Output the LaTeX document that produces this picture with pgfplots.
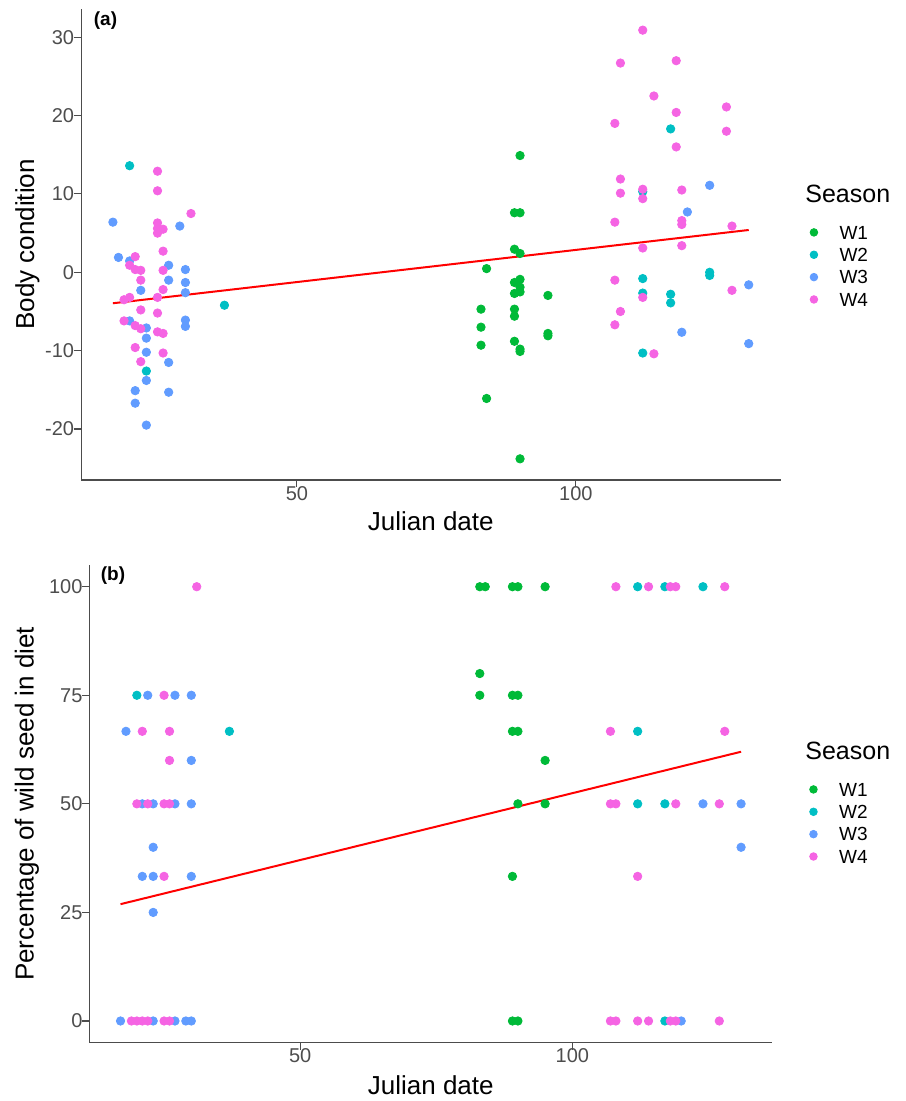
\documentclass[border=0pt]{standalone}
\usepackage{fontspec}
\setmainfont{Liberation Sans}
\usepackage{pgfplots}
\pgfplotsset{compat=1.18}

\definecolor{wone}{HTML}{00BA38}
\definecolor{wtwo}{HTML}{00BFC4}
\definecolor{wthree}{HTML}{619CFF}
\definecolor{wfour}{HTML}{F564E3}
\definecolor{ticktext}{HTML}{4D4D4D}

\pgfplotsset{
  gg/.style={
    scale only axis, anchor=south west,
    axis lines=left, axis line style={-, black!70, line width=0.55pt},
    tick align=outside, major tick length=3.5pt,
    tick style={black!70, line width=0.55pt},
    xmin=11.3, xmax=136.7, xtick={50,100},
    ticklabel style={font=\fontsize{10}{12}\selectfont, text=ticktext},
    xticklabel style={yshift=4pt},
    yticklabel style={xshift=3.5pt},
    /pgf/number format/assume math mode=true,
    label style={font=\fontsize{13}{15}\selectfont},
    legend cell align=left,
    legend style={draw=none, fill=none, inner sep=0pt, anchor=north west,
      row sep=4.35pt, font=\fontsize{9.5}{11}\selectfont,
      nodes={inner sep=0pt, text height=6.8pt, text depth=0pt}},
    legend image code/.code={%
      \path[draw=none, fill=none] (0cm,-0.12cm) rectangle (0.6cm,0.12cm);
      \draw[#1,mark size=1.9pt] plot coordinates {(0.15cm,0cm)};},
  },
  dots/.style={only marks, mark=*, mark size=2.1pt},
}

\begin{document}
\begin{tikzpicture}
\useasboundingbox (0,0) rectangle (452.5pt,550.5pt);

% (a) body condition
\begin{axis}[gg, at={(40.55pt,310.5pt)}, width=349.7pt, height=235.5pt,
  ymin=-26.5, ymax=33.6, ytick={-20,-10,0,10,20,30},
  xlabel={Julian date}, ylabel={Body condition},
  xlabel style={at={(axis description cs:0.5,-0.087)}, anchor=center},
  ylabel style={at={(axis description cs:-0.0766,0.5)}, anchor=center},
  legend style={at={(axis description cs:1.035,0.541)}}]
\addplot[dots, color=wone] coordinates {
  (90,14.9) (89,7.6) (90,7.6) (89,2.95) (90,2.4) (84,0.47) (89,-1.3) (90,-0.9)
  (90,-1.9) (89,-2.7) (90,-2.5) (95,-2.95) (83,-4.7) (89,-4.7) (89,-5.6)
  (83,-7.0) (95,-7.8) (95,-8.1) (83,-9.3) (89,-8.8) (90,-9.8) (90,-10.1)
  (84,-16.1) (90,-23.8) };
\addlegendentry{W1}
\addplot[dots, color=wtwo] coordinates {
  (20,13.6) (23,-12.6) (37,-4.2) (117,18.3) (112,10.3) (112,-0.8) (124,0.0)
  (124,-0.4) (112,-2.65) (117,-2.8) (117,-3.9) (112,-10.3) };
\addlegendentry{W2}
\addplot[dots, color=wthree] coordinates {
  (17,6.4) (29,5.9) (18,1.9) (20,1.45) (27,0.9) (30,0.35) (27,-1.0) (30,-1.3)
  (22,-2.3) (30,-2.6) (20,-6.2) (30,-6.1) (30,-6.9) (23,-7.1) (23,-8.4)
  (23,-10.2) (27,-11.5) (23,-13.8) (21,-15.1) (27,-15.3) (21,-16.7) (23,-19.5)
  (124,11.1) (120,7.7) (131,-1.6) (119,-7.65) (131,-9.1) };
\addlegendentry{W3}
\addplot[dots, color=wfour] coordinates {
  (25,12.9) (25,10.4) (31,7.5) (25,6.3) (26,5.5) (25,5.0) (25,5.6) (26,2.7)
  (21,2.0) (20,0.9) (21,0.35) (22,0.25) (26,0.25) (22,-1.0) (26,-2.2) (25,-3.2)
  (19,-3.5) (20,-3.2) (22,-4.8) (25,-5.2) (19,-6.2) (21,-6.8) (22,-7.2)
  (25,-7.6) (26,-7.8) (21,-9.6) (26,-10.3) (22,-11.4)
  (112,30.9) (108,26.7) (118,27.0) (114,22.5) (118,20.4) (127,21.1) (107,19.0)
  (127,18.0) (118,16.0) (108,11.9) (108,10.1) (112,10.6) (112,9.4) (119,10.5)
  (107,6.4) (119,6.6) (119,6.1) (128,5.9) (112,3.1) (119,3.4) (107,-1.0)
  (112,-3.2) (128,-2.3) (108,-5.0) (107,-6.7) (114,-10.4) };
\addlegendentry{W4}
\addplot[red, line width=1pt, forget plot] coordinates {(17,-3.95) (131,5.4)};
\end{axis}

% (b) wild seed in diet
\begin{axis}[gg, at={(44.75pt,29.15pt)}, width=341.3pt, height=238.85pt,
  ymin=-5, ymax=105, ytick={0,25,50,75,100},
  xlabel={Julian date}, ylabel={Percentage of wild seed in diet},
  xlabel style={at={(axis description cs:0.5,-0.088)}, anchor=center},
  ylabel style={at={(axis description cs:-0.0916,0.5)}, anchor=center},
  legend style={at={(axis description cs:1.0475,0.5453)}}]
\addplot[dots, color=wone] coordinates {
  (83,100) (84,100) (89,100) (90,100) (95,100) (83,80) (83,75) (89,75) (90,75)
  (89,66.7) (90,66.7) (95,60) (90,50) (95,50) (89,33.3) (89,0) (90,0) };
\addlegendentry{W1}
\addplot[dots, color=wtwo] coordinates {
  (20,75) (37,66.7) (112,100) (117,100) (124,100) (112,66.7) (112,50)
  (117,50) (117,0) };
\addlegendentry{W2}
\addplot[dots, color=wthree] coordinates {
  (22,75) (27,75) (30,75) (18,66.7) (30,60) (21,50) (23,50) (27,50) (30,50)
  (23,40) (21,33.3) (23,33.3) (30,33.3) (23,25) (17,0) (23,0) (27,0) (29,0)
  (30,0) (124,50) (131,50) (131,40) (120,0) };
\addlegendentry{W3}
\addplot[dots, color=wfour] coordinates {
  (31,100) (25,75) (21,66.7) (26,66.7) (26,60) (20,50) (22,50) (25,50) (26,50)
  (25,33.3) (19,0) (20,0) (21,0) (22,0) (25,0) (26,0)
  (108,100) (114,100) (118,100) (119,100) (128,100) (107,66.7) (128,66.7)
  (107,50) (108,50) (119,50) (127,50) (112,33.3) (107,0) (108,0) (112,0)
  (114,0) (118,0) (119,0) (127,0) };
\addlegendentry{W4}
\addplot[red, line width=1pt, forget plot] coordinates {(17,26.9) (131,62.0)};
\end{axis}

\node[anchor=center, font=\bfseries\fontsize{9.5}{11}\selectfont] at (52.75pt,540pt) {(a)};
\node[anchor=center, font=\bfseries\fontsize{9.5}{11}\selectfont] at (56.5pt,262.5pt) {(b)};
\node[anchor=base west, inner sep=0pt, font=\fontsize{12.5}{15}\selectfont] at (402.5pt,449pt) {Season};
\node[anchor=base west, inner sep=0pt, font=\fontsize{12.5}{15}\selectfont] at (402.5pt,170.5pt) {Season};
\end{tikzpicture}
\end{document}
